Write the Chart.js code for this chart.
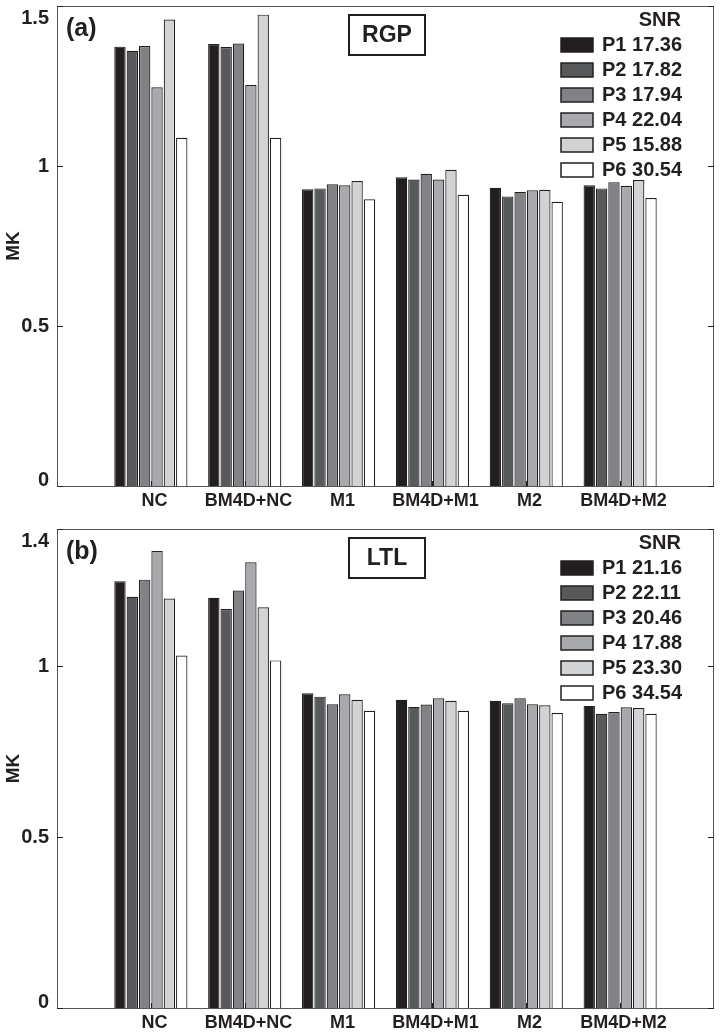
<!DOCTYPE html>
<html>
<head>
<meta charset="utf-8">
<script src="https://cdn.jsdelivr.net/npm/chart.js@4.4.1/dist/chart.umd.min.js"></script>
<style>
  html, body { margin: 0; padding: 0; background: #fff; }
  .panel { position: absolute; left: 0; width: 722px; }
  #panelA { top: 0; height: 512px; }
  #panelB { top: 512px; height: 523px; }
</style>
</head>
<body>
<div class="panel" id="panelA"><canvas id="chartA"></canvas></div>
<div class="panel" id="panelB"><canvas id="chartB"></canvas></div>
<script>
const categories = ['NC', 'BM4D+NC', 'M1', 'BM4D+M1', 'M2', 'BM4D+M2'];
const seriesNames = ['P1', 'P2', 'P3', 'P4', 'P5', 'P6'];
const seriesColors = ['#231f20', '#58595b', '#808285', '#a7a9ac', '#d1d3d4', '#ffffff'];

// (a) RGP
const snrRGP = ['17.36', '17.82', '17.94', '22.04', '15.88', '30.54'];
const rgpP1 = [1.373, 1.381, 0.927, 0.965, 0.932, 0.940];
const rgpP2 = [1.360, 1.372, 0.930, 0.958, 0.905, 0.930];
const rgpP3 = [1.375, 1.383, 0.943, 0.976, 0.919, 0.949];
const rgpP4 = [1.246, 1.253, 0.940, 0.958, 0.924, 0.938];
const rgpP5 = [1.458, 1.473, 0.953, 0.988, 0.926, 0.956];
const rgpP6 = [1.088, 1.088, 0.896, 0.910, 0.888, 0.900];
const rgpTicks = [0, 0.5, 1, 1.5];

// (b) LTL
const snrLTL = ['21.16', '22.11', '20.46', '17.88', '23.30', '34.54'];
const ltlP1 = [1.247, 1.199, 0.920, 0.901, 0.898, 0.883];
const ltlP2 = [1.202, 1.166, 0.910, 0.880, 0.891, 0.860];
const ltlP3 = [1.252, 1.220, 0.888, 0.887, 0.905, 0.865];
const ltlP4 = [1.336, 1.303, 0.917, 0.905, 0.888, 0.879];
const ltlP5 = [1.197, 1.171, 0.901, 0.898, 0.885, 0.877];
const ltlP6 = [1.030, 1.016, 0.869, 0.869, 0.862, 0.860];
const ltlTicks = [0, 0.5, 1, 1.4];

const ink = '#231f20';
const fontFamily = '"Liberation Sans", Arial, sans-serif';

// 축 상자, 안쪽 눈금, 눈금 글자, 범례, 제목 상자
const decorPlugin = {
  id: 'decor',
  afterDraw(chart, args, opts) {
    const ctx = chart.ctx;
    const area = chart.chartArea;
    const y = chart.scales.y;
    const x = chart.scales.x;
    ctx.save();

    ctx.strokeStyle = '#555';
    ctx.lineWidth = 1;
    ctx.strokeRect(area.left + 0.5, area.top + 0.5, area.right - area.left - 1, area.bottom - area.top);

    ctx.strokeStyle = ink;
    ctx.fillStyle = ink;
    ctx.font = 'bold 20px ' + fontFamily;
    ctx.textAlign = 'right';
    ctx.textBaseline = 'middle';
    opts.ticks.forEach(v => {
      const py = Math.round(y.getPixelForValue(v)) + 0.5;
      ctx.beginPath();
      ctx.moveTo(area.left, py); ctx.lineTo(area.left + 6, py);
      ctx.moveTo(area.right, py); ctx.lineTo(area.right - 6, py);
      ctx.stroke();
      const ly = Math.min(Math.max(py, area.top + 12), area.bottom - 6);
      ctx.fillText(String(v), area.left - 8, ly);
    });

    ctx.textAlign = 'center';
    ctx.font = 'bold 18px ' + fontFamily;
    categories.forEach((cat, i) => {
      const px = Math.round(x.getPixelForValue(i + 1)) + 0.5;
      ctx.beginPath();
      ctx.moveTo(px, area.bottom); ctx.lineTo(px, area.bottom - 5);
      ctx.stroke();
      ctx.fillText(cat, px + 3, area.bottom + 15);
    });

    // (a) / (b)
    ctx.textAlign = 'left';
    ctx.font = 'bold 25px ' + fontFamily;
    ctx.fillText(opts.panel, area.left + 9, area.top + 23);

    // 제목 상자
    ctx.lineWidth = 2;
    ctx.strokeRect(349, area.top + 9, 76, 40);
    ctx.textAlign = 'center';
    ctx.font = 'bold 23px ' + fontFamily;
    ctx.fillText(opts.title, 387, area.top + 30);

    // 범례
    ctx.textAlign = 'right';
    ctx.font = 'bold 20px ' + fontFamily;
    ctx.fillText('SNR', 681, area.top + 14);
    ctx.textAlign = 'left';
    ctx.lineWidth = 1.5;
    seriesNames.forEach((name, i) => {
      const cy = area.top + 39 + i * 25;
      ctx.fillStyle = seriesColors[i];
      ctx.fillRect(561, cy - 7, 32, 14);
      ctx.strokeStyle = ink;
      ctx.strokeRect(561, cy - 7, 32, 14);
      ctx.fillStyle = ink;
      ctx.fillText(name + ' ' + opts.snr[i], 602, cy);
    });
    ctx.restore();
  }
};

function makeChart(canvasId, series, snr, ticks, panel, title, padTop, xHeight) {
  const datasets = seriesNames.map((name, i) => ({
    label: name + ' ' + snr[i],
    data: [null, ...series[i], null],
    backgroundColor: seriesColors[i],
    borderColor: ink,
    borderWidth: 1.2,
    categoryPercentage: 0.79,
    barPercentage: 0.92
  }));

  return new Chart(document.getElementById(canvasId), {
    type: 'bar',
    data: { labels: ['', ...categories, ''], datasets: datasets },
    options: {
      responsive: true,
      maintainAspectRatio: false,
      animation: false,
      layout: { padding: { top: padTop, right: 8, left: 0, bottom: 0 } },
      plugins: {
        legend: { display: false },
        tooltip: { enabled: false },
        decor: { ticks: ticks, snr: snr, panel: panel, title: title }
      },
      scales: {
        x: {
          offset: false,
          grid: { display: false },
          border: { display: false },
          ticks: { display: false },
          afterFit: s => { s.height = xHeight; }
        },
        y: {
          min: 0,
          max: ticks[ticks.length - 1],
          grid: { display: false },
          border: { display: false },
          ticks: { display: false },
          afterBuildTicks: s => { s.ticks = ticks.map(v => ({ value: v })); },
          afterFit: s => { s.width = 57; },
          title: {
            display: true,
            text: 'MK',
            color: ink,
            padding: { top: 2, bottom: 0 },
            font: { family: fontFamily, size: 19, weight: 'bold' }
          }
        }
      }
    },
    plugins: [decorPlugin]
  });
}

makeChart('chartA', [rgpP1, rgpP2, rgpP3, rgpP4, rgpP5, rgpP6], snrRGP, rgpTicks, '(a)', 'RGP', 6, 26);
makeChart('chartB', [ltlP1, ltlP2, ltlP3, ltlP4, ltlP5, ltlP6], snrLTL, ltlTicks, '(b)', 'LTL', 17, 27);
</script>
</body>
</html>
